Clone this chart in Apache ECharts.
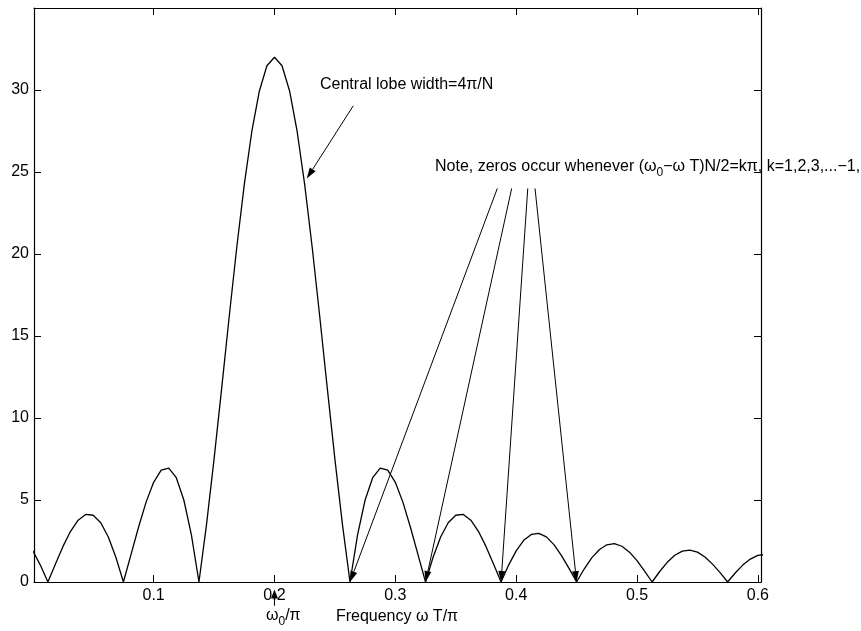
<!DOCTYPE html>
<html>
<head>
<meta charset="utf-8">
<script src="https://cdn.jsdelivr.net/npm/echarts@6/dist/echarts.min.js"></script>
<style>
  html, body { margin: 0; padding: 0; background: #fff; }
  #chart { width: 861px; height: 631px; }
</style>
</head>
<body>
<div id="chart"></div>
<script>
// Sampled frequency points (omega*T/pi)
const freq = [
  0.00000, 0.00625, 0.01250, 0.01875, 0.02500, 0.03125, 0.03750, 0.04375, 0.05000, 0.05625,
  0.06250, 0.06875, 0.07500, 0.08125, 0.08750, 0.09375, 0.10000, 0.10625, 0.11250, 0.11875,
  0.12500, 0.13125, 0.13750, 0.14375, 0.15000, 0.15625, 0.16250, 0.16875, 0.17500, 0.18125,
  0.18750, 0.19375, 0.20000, 0.20625, 0.21250, 0.21875, 0.22500, 0.23125, 0.23750, 0.24375,
  0.25000, 0.25625, 0.26250, 0.26875, 0.27500, 0.28125, 0.28750, 0.29375, 0.30000, 0.30625,
  0.31250, 0.31875, 0.32500, 0.33125, 0.33750, 0.34375, 0.35000, 0.35625, 0.36250, 0.36875,
  0.37500, 0.38125, 0.38750, 0.39375, 0.40000, 0.40625, 0.41250, 0.41875, 0.42500, 0.43125,
  0.43750, 0.44375, 0.45000, 0.45625, 0.46250, 0.46875, 0.47500, 0.48125, 0.48750, 0.49375,
  0.50000, 0.50625, 0.51250, 0.51875, 0.52500, 0.53125, 0.53750, 0.54375, 0.55000, 0.55625,
  0.56250, 0.56875, 0.57500, 0.58125, 0.58750, 0.59375, 0.60000, 0.60625
];

// Spectrum magnitude at each frequency point
const magnitude = [
  1.90, 1.03, 0.00, 1.10, 2.17, 3.09, 3.77, 4.12, 4.07, 3.61,
  2.74, 1.51, 0.00, 1.67, 3.34, 4.87, 6.08, 6.82, 6.94, 6.36,
  5.00, 2.87, 0.00, 3.50, 7.49, 11.78, 16.16, 20.38, 24.23, 27.47,
  29.94, 31.48, 32.00, 31.48, 29.94, 27.47, 24.23, 20.38, 16.16, 11.78,
  7.49, 3.50, 0.00, 2.87, 5.00, 6.36, 6.94, 6.82, 6.08, 4.87,
  3.34, 1.67, 0.00, 1.51, 2.74, 3.61, 4.07, 4.12, 3.77, 3.09,
  2.17, 1.10, 0.00, 1.03, 1.90, 2.54, 2.90, 2.97, 2.75, 2.28,
  1.61, 0.83, 0.00, 0.79, 1.47, 1.97, 2.27, 2.34, 2.18, 1.82,
  1.30, 0.67, 0.00, 0.64, 1.20, 1.63, 1.88, 1.95, 1.82, 1.52,
  1.09, 0.57, 0.00, 0.55, 1.03, 1.40, 1.62, 1.68
];

const xTicks = [0.1, 0.2, 0.3, 0.4, 0.5, 0.6];
const yTicks = [0, 5, 10, 15, 20, 25, 30];

// Annotation anchors, in data coordinates
const lobeArrowTail = [0.2652, 29.04];
const lobeArrowHead = [0.2267, 24.6];
const zeroArrowTails = [[0.3844, 24.0], [0.3963, 24.0], [0.4096, 24.0], [0.4156, 24.0]];
const zeroFreqs = [0.2625, 0.325, 0.3875, 0.45];
const centreFreq = 0.2;

const FONT = '"Liberation Sans", Arial, Helvetica, sans-serif';
const FS = 16;

const chart = echarts.init(document.getElementById('chart'), null, { renderer: 'canvas' });

function boxAxis(extra) {
  return Object.assign({
    type: 'value',
    splitLine: { show: false },
    axisLine: { show: true, onZero: false, lineStyle: { color: '#000', width: 1.2 } },
    axisTick: { show: true, inside: true, length: 7, lineStyle: { color: '#000', width: 1 } },
    axisLabel: { show: false }
  }, extra);
}

const xRange = { min: 0.001, max: 0.6026 };

chart.setOption({
  animation: false,
  backgroundColor: '#fff',
  grid: { left: 34, top: 8, width: 727, height: 574, containLabel: false },
  xAxis: [
    boxAxis(Object.assign({
      position: 'bottom',
      axisTick: { show: true, inside: true, length: 7, customValues: xTicks, lineStyle: { color: '#000', width: 1 } },
      axisLabel: {
        show: true, customValues: xTicks, color: '#000', fontSize: FS, fontFamily: FONT, margin: 6,
        formatter: v => String(v)
      }
    }, xRange)),
    boxAxis(Object.assign({
      position: 'top',
      axisTick: { show: true, inside: true, length: 7, customValues: xTicks, lineStyle: { color: '#000', width: 1 } }
    }, xRange))
  ],
  yAxis: [
    boxAxis({
      position: 'left', min: 0, max: 35,
      axisTick: { show: true, inside: true, length: 7, customValues: yTicks, lineStyle: { color: '#000', width: 1 } },
      axisLabel: { show: true, customValues: yTicks, color: '#000', fontSize: FS, fontFamily: FONT, margin: 5 }
    }),
    boxAxis({
      position: 'right', min: 0, max: 35,
      axisTick: { show: true, inside: true, length: 7, customValues: yTicks, lineStyle: { color: '#000', width: 1 } }
    })
  ],
  series: [{
    type: 'line',
    xAxisIndex: 0,
    yAxisIndex: 0,
    data: freq.map((f, i) => [f, magnitude[i]]),
    showSymbol: false,
    clip: true,
    lineStyle: { color: '#000', width: 1.3 }
  }]
});

const toPx = p => chart.convertToPixel({ xAxisIndex: 0, yAxisIndex: 0 }, p);

// Line with a filled triangular head whose tip sits on the target point
function arrow(from, to, len, half) {
  const a = toPx(from), b = toPx(to);
  const dx = b[0] - a[0], dy = b[1] - a[1];
  const L = Math.hypot(dx, dy);
  const ux = dx / L, uy = dy / L;
  const base = [b[0] - ux * len, b[1] - uy * len];
  const p1 = [base[0] - uy * half, base[1] + ux * half];
  const p2 = [base[0] + uy * half, base[1] - ux * half];
  return [
    { type: 'line', silent: true, shape: { x1: a[0], y1: a[1], x2: base[0], y2: base[1] },
      style: { stroke: '#000', lineWidth: 1 } },
    { type: 'polygon', silent: true, shape: { points: [b, p1, p2] }, style: { fill: '#000' } }
  ];
}

const richStyles = {
  sub: { fontSize: 12, fontFamily: FONT, fill: '#000', padding: [12, 0, 0, 0] }
};

function label(x, y, text, align) {
  return {
    type: 'text', silent: true, x: x, y: y,
    style: {
      text: text, fill: '#000', font: FS + 'px ' + FONT,
      fontSize: FS, fontFamily: FONT,
      align: align || 'left', verticalAlign: 'middle', rich: richStyles
    }
  };
}

const graphics = [];
graphics.push(...arrow(lobeArrowTail, lobeArrowHead, 11, 3.5));
zeroArrowTails.forEach((t, i) => graphics.push(...arrow(t, [zeroFreqs[i], 0], 11, 3.5)));
graphics.push(...arrow([centreFreq, -1.45], [centreFreq, -0.45], 9, 3.5));

graphics.push(label(320, 85, 'Central lobe width=4π/N'));
graphics.push(label(435, 167, 'Note, zeros occur whenever (ω{sub|0}−ω T)N/2=kπ, k=1,2,3,...−1,'));
graphics.push(label(397, 617, 'Frequency ω T/π', 'center'));
graphics.push(label(266, 616, 'ω{sub|0}/π'));

chart.setOption({ graphic: graphics });
</script>
</body>
</html>
